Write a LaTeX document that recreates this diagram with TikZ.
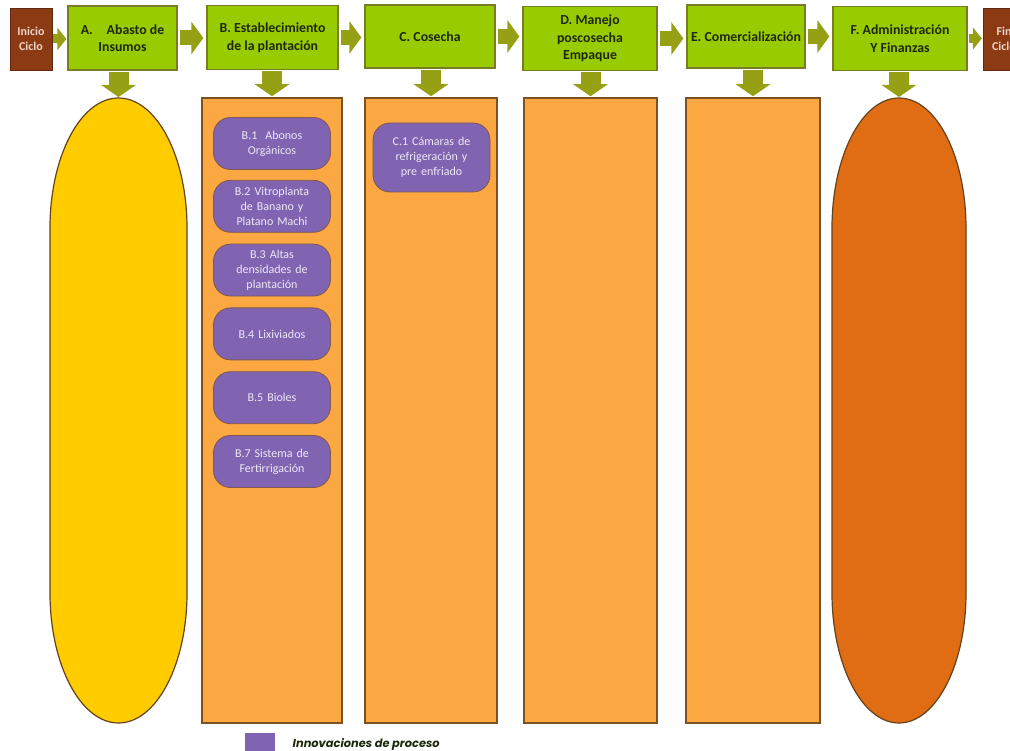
\documentclass[tikz,border=0pt]{standalone}
\usepackage{fontspec}
\setmainfont{Carlito}
\newfontfamily\legendfont{Poppins}
\usepackage{xcolor}
\usetikzlibrary{arrows.meta,positioning}
\definecolor{stagegreen}{RGB}{153,204,0}
\definecolor{stageedge}{RGB}{120,125,35}
\definecolor{endbrown}{RGB}{140,58,20}
\definecolor{endtext}{RGB}{240,212,200}
\definecolor{arrowolive}{RGB}{150,160,20}
\definecolor{colorange}{RGB}{252,168,66}
\definecolor{coledge}{RGB}{125,82,35}
\definecolor{supplyyellow}{RGB}{255,204,0}
\definecolor{financeorange}{RGB}{224,108,20}
\definecolor{innovpurple}{RGB}{128,100,178}
\definecolor{innovtext}{RGB}{238,232,246}
\definecolor{titletext}{RGB}{30,40,10}

\newcommand{\stadiumshape}[4]{%
  \coordinate (#1) at (#2,98);
  \draw[stadium,fill=#4] (#2-#3,228) arc[start angle=180,end angle=0,x radius=#3 pt,y radius=130pt]
    -- (#2+#3,593) arc[start angle=0,end angle=-180,x radius=#3 pt,y radius=130pt] -- cycle;}

\begin{document}
\begin{tikzpicture}[x=1pt,y=-1pt,
  stage/.style={draw=stageedge,line width=1.2pt,fill=stagegreen,minimum height=64pt,align=center,
    inner sep=1pt,text=titletext,font=\bfseries\fontsize{13.8}{17.5}\selectfont},
  endbox/.style={fill=endbrown,draw=endbrown!70!black,minimum width=42pt,minimum height=62pt,align=center,
    inner sep=1pt,text=endtext,font=\bfseries\fontsize{12}{15}\selectfont},
  column/.style={draw=coledge,line width=1.5pt,fill=colorange,minimum height=625pt},
  stadium/.style={draw=coledge!80!black,line width=1.2pt},
  innov/.style={rounded corners=17pt,fill=innovpurple,draw=coledge!70!innovpurple,line width=0.8pt,
    minimum width=117pt,minimum height=52pt,inner sep=2pt,text width=108pt,align=center,
    text=innovtext,font=\fontsize{12}{15}\selectfont},
  flow/.style={arrowolive,line width=15pt,-{Triangle[width=32pt,length=12pt]},shorten <=2pt,shorten >=3pt},
  smallflow/.style={arrowolive,line width=9pt,-{Triangle[width=22pt,length=9pt]},shorten <=1pt,shorten >=1pt},
  downflow/.style={arrowolive,line width=20pt,-{Triangle[width=34pt,length=12pt]},shorten <=1pt,shorten >=1pt}]
\useasboundingbox (0,0) rectangle (1010,751);

\node[endbox] (inicio) at (31,39) {Inicio\\Ciclo};
\node[stage,minimum width=109pt] (stA) at (122.5,38) {A.\quad Abasto de\\Insumos};
\node[stage,minimum width=131pt] (stB) at (272.5,37.5) {B. Establecimiento\\de la plantación};
\node[stage,minimum width=130pt,minimum height=63pt] (stC) at (430,36.5) {C. Cosecha};
\node[stage,minimum width=134pt] (stD) at (590,38.5) {D. Manejo\\poscosecha\\Empaque};
\node[stage,minimum width=118pt,minimum height=63pt] (stE) at (746,36.5) {E. Comercialización};
\node[stage,minimum width=134pt] (stF) at (900,38.5) {F. Administración\\Y Finanzas};
\node[endbox] (fin) at (1004,39) {Fin\\Ciclo};

\draw[smallflow] (inicio.east) -- (inicio.east -| stA.west);
\draw[flow] (stA.east) -- (stA.east -| stB.west);
\draw[flow] (stB.east) -- (stB.east -| stC.west);
\draw[flow] (stC.east) -- (stC.east -| stD.west);
\draw[flow] (stD.east) -- (stD.east -| stE.west);
\draw[flow] (stE.east) -- (stE.east -| stF.west);
\draw[smallflow] (stF.east) -- (stF.east -| fin.west);

\stadiumshape{colA}{118.5}{68.5}{supplyyellow}
\node[column,minimum width=140pt] (colB) at (272,410.5) {};
\node[column,minimum width=132pt] (colC) at (431,410.5) {};
\node[column,minimum width=133pt] (colD) at (590.5,410.5) {};
\node[column,minimum width=134pt] (colE) at (753,410.5) {};
\stadiumshape{colF}{899}{67}{financeorange}

\draw[downflow] (colA |- stA.south) -- (colA);
\draw[downflow] (colB.north |- stB.south) -- (colB.north);
\draw[downflow] (colC.north |- stC.south) -- (colC.north);
\draw[downflow] (colD.north |- stD.south) -- (colD.north);
\draw[downflow] (colE.north |- stE.south) -- (colE.north);
\draw[downflow] (colF |- stF.south) -- (colF);

\node[innov] (b1) at (272,143.5) {B.1 \ Abonos\\Orgánicos};
\node[innov,below=10pt of b1] (b2) {B.2 Vitroplanta\\de Banano y\\Platano Machi};
\node[innov,below=11pt of b2] (b3) {B.3 Altas\\densidades de\\plantación};
\node[innov,below=11pt of b3] (b4) {B.4 Lixiviados};
\node[innov,below=11pt of b4] (b5) {B.5 Bioles};
\node[innov,below=11pt of b5] (b7) {B.7 Sistema de\\Fertirrigación};
\node[innov,minimum height=69pt] (c1) at (431.5,157.5) {C.1 Cámaras de\\refrigeración y\\pre enfriado};

\node[fill=innovpurple,minimum width=30pt,minimum height=22pt] (legbox) at (260,744) {};
\node[right=14pt of legbox,text=titletext,font=\legendfont\bfseries\itshape\fontsize{11.4}{13}\selectfont] (legtext) {Innovaciones de proceso};
\end{tikzpicture}
\end{document}
